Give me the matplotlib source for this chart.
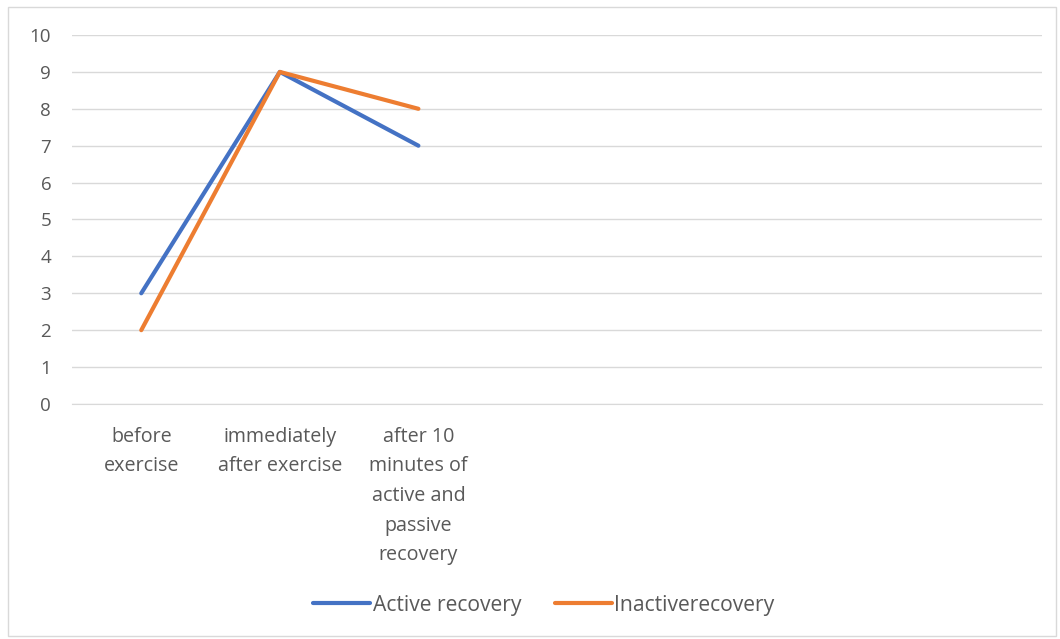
import matplotlib.pyplot as plt
import matplotlib.patches as mpatches

# Categorias del eje x (solo las tres primeras tienen texto)
categorias = ['before\nexercise', 'immediately\nafter exercise',
              'after 10\nminutes of\nactive and\npassive\nrecovery', '', '', '', '']
activa = [3, 9, 7]                                                     # Active recovery
inactiva = [2, 9, 8]                                                   # Inactiverecovery
y_ticks = list(range(0, 11))

plt.rcParams['font.family'] = ['Open Sans', 'DejaVu Sans']
gris = '#595959'

fig = plt.figure(figsize=(10.6, 6.39), dpi=100)
ax = fig.add_axes([0.0679, 0.3678, 0.9151, 0.5774])

# Marco exterior del grafico
fig.patches.append(mpatches.Rectangle((8 / 1060, 3 / 639), 1048 / 1060, 629 / 639,
                                      transform=fig.transFigure, fill=False,
                                      edgecolor='#d9d9d9', linewidth=1))

x = list(range(len(categorias)))
ax.plot(x[:len(activa)], activa, color='#4472C4', linewidth=3, label='Active recovery',
        solid_capstyle='round', zorder=3)
ax.plot(x[:len(inactiva)], inactiva, color='#ED7D31', linewidth=3, label='Inactiverecovery',
        solid_capstyle='round', zorder=4)

ax.set_xlim(-0.5, len(categorias) - 0.5)
ax.set_ylim(0, 10)
ax.set_yticks(y_ticks)
ax.set_xticks(x)
ax.set_xticklabels(categorias, fontsize=14.2, color=gris, linespacing=1.64)
ax.tick_params(axis='y', labelsize=13.5, colors=gris, length=0, pad=15)
ax.tick_params(axis='x', length=0, pad=16.5)

ax.grid(axis='y', color='#d9d9d9', linewidth=1)
ax.set_axisbelow(True)
for s in ['top', 'right', 'left']:
    ax.spines[s].set_visible(False)
ax.spines['bottom'].set_color('#d9d9d9')

fig.legend(loc='center', bbox_to_anchor=(0.513, 0.053), ncol=2, frameon=False,
           fontsize=15.2, labelcolor=gris, handlelength=2.7, handletextpad=0.1,
           columnspacing=1.6)

fig.savefig('out.png', dpi=100)
